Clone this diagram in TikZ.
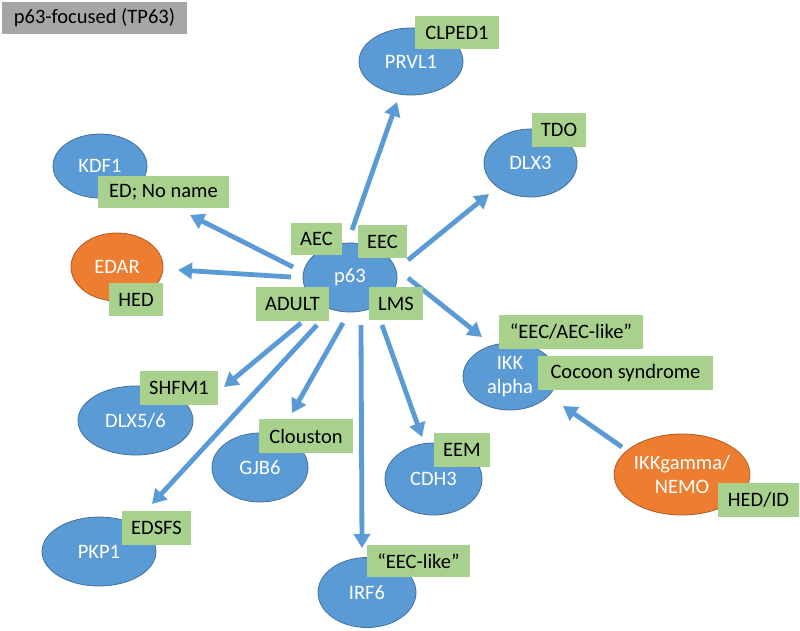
\documentclass[tikz,border=0pt]{standalone}
\usepackage{fontspec}
\setmainfont{Carlito}
\usetikzlibrary{shapes.geometric,arrows.meta}
\definecolor{nblue}{HTML}{5B9BD5}
\definecolor{nblueline}{HTML}{41719C}
\definecolor{norange}{HTML}{ED7D31}
\definecolor{norangeline}{HTML}{AE5A21}
\definecolor{lgreen}{HTML}{A9D18E}
\definecolor{tgray}{HTML}{A6A6A6}
\tikzset{
  gene/.style={ellipse, fill=nblue, draw=nblueline, line width=0.8pt, inner sep=0pt,
    text=white, font=\fontsize{20.5}{25}\selectfont, align=center},
  orgene/.style={gene, fill=norange, draw=norangeline},
  lbl/.style={fill=lgreen, inner sep=0pt, text=black, font=\fontsize{20.5}{25}\selectfont},
  arr/.style={draw=nblue, line width=4.8pt, -{Triangle[length=14pt,width=16pt]}}
}
\newcommand{\lbox}[6]{%
  \node[lbl, minimum width={#4-#2}, minimum height={#5-#3}] (#1) at ({(#2+#4)/2},{(#3+#5)/2}) {#6};}
\begin{document}
\begin{tikzpicture}[x=1pt,y=-1pt]
\useasboundingbox (0,0) rectangle (800,630);
\fill[white] (0,0) rectangle (800,630);
% title
\node[fill=tgray, minimum width=185pt, minimum height=32pt, inner sep=0pt,
  font=\fontsize{20.5}{25}\selectfont] (title) at (94.5,18) {p63-focused (TP63)};
% genes
\node[gene, minimum width=104pt, minimum height=67pt] (PRVL1) at (411,61.5) {PRVL1};
\node[gene, minimum width=93pt, minimum height=68pt] (DLX3) at (530.5,163) {DLX3};
\node[gene, minimum width=94pt, minimum height=64pt] (KDF1) at (100,166) {KDF1};
\node[orgene, minimum width=92pt, minimum height=68pt] (EDAR) at (117,267) {EDAR};
\node[gene, minimum width=94pt, minimum height=69pt] (p63) at (350,277.5) {p63};
\node[gene, minimum width=94pt, minimum height=67pt] (IKKa) at (510,376.5) {IKK\\[-1pt]alpha};
\node[orgene, minimum width=120pt, minimum height=81pt] (NEMO) at (682,474.5) {IKKgamma/\\[-1pt]NEMO};
\node[gene, minimum width=115pt, minimum height=69pt] (DLX56) at (135.5,420.5) {DLX5/6};
\node[gene, minimum width=96pt, minimum height=69pt] (GJB6) at (260,467.5) {GJB6};
\node[gene, minimum width=97pt, minimum height=72pt] (CDH3) at (433.5,479) {CDH3};
\node[gene, minimum width=114pt, minimum height=69pt] (PKP1) at (99,551.5) {PKP1};
\node[gene, minimum width=98pt, minimum height=70pt] (IRF6) at (367,592.5) {IRF6};
% arrows
\coordinate (a1s) at (352,230); \coordinate (a1e) at (397,102);
\coordinate (a2s) at (408,260); \coordinate (a2e) at (489,194);
\coordinate (a3s) at (293,267); \coordinate (a3e) at (190,215);
\coordinate (a4s) at (291,277); \coordinate (a4e) at (178,270);
\coordinate (a5s) at (408,278); \coordinate (a5e) at (482,337);
\coordinate (a6s) at (301,323); \coordinate (a6e) at (224,387);
\coordinate (a7s) at (317,325); \coordinate (a7e) at (152,504);
\coordinate (a8s) at (343,323); \coordinate (a8e) at (292,413);
\coordinate (a9s) at (361,325); \coordinate (a9e) at (362,548);
\coordinate (a10s) at (382,325); \coordinate (a10e) at (422,437);
\coordinate (a11s) at (622,447); \coordinate (a11e) at (563,406);
\draw[arr] (a1s) -- (a1e);
\draw[arr] (a2s) -- (a2e);
\draw[arr] (a3s) -- (a3e);
\draw[arr] (a4s) -- (a4e);
\draw[arr] (a5s) -- (a5e);
\draw[arr] (a6s) -- (a6e);
\draw[arr] (a7s) -- (a7e);
\draw[arr] (a8s) -- (a8e);
\draw[arr] (a9s) -- (a9e);
\draw[arr] (a10s) -- (a10e);
\draw[arr] (a11s) -- (a11e);
% labels
\lbox{lCLPED}{415}{16}{499}{49}{CLPED1}
\lbox{lTDO}{532}{113}{586}{147}{TDO}
\lbox{lED}{98}{176}{229}{208}{ED; No name}
\lbox{lHED}{109}{283}{163}{316}{HED}
\lbox{lAEC}{291}{223}{342}{255}{AEC}
\lbox{lEEC}{358}{225}{407}{258}{EEC}
\lbox{lADULT}{256}{287}{329}{321}{ADULT}
\lbox{lLMS}{369}{287}{423}{320}{LMS}
\lbox{lEECAEC}{499}{315}{643}{349}{“EEC/AEC-like”}
\lbox{lCocoon}{538}{356}{713}{390}{Cocoon syndrome}
\lbox{lHEDID}{718}{483}{799}{517}{HED/ID}
\lbox{lSHFM}{140}{371}{218}{405}{SHFM1}
\lbox{lClouston}{259}{419}{353}{453}{Clouston}
\lbox{lEEM}{434}{433}{490}{467}{EEM}
\lbox{lEDSFS}{122}{511}{191}{545}{EDSFS}
\lbox{lEEClike}{367}{545}{470}{577}{“EEC-like”}
\end{tikzpicture}
\end{document}
